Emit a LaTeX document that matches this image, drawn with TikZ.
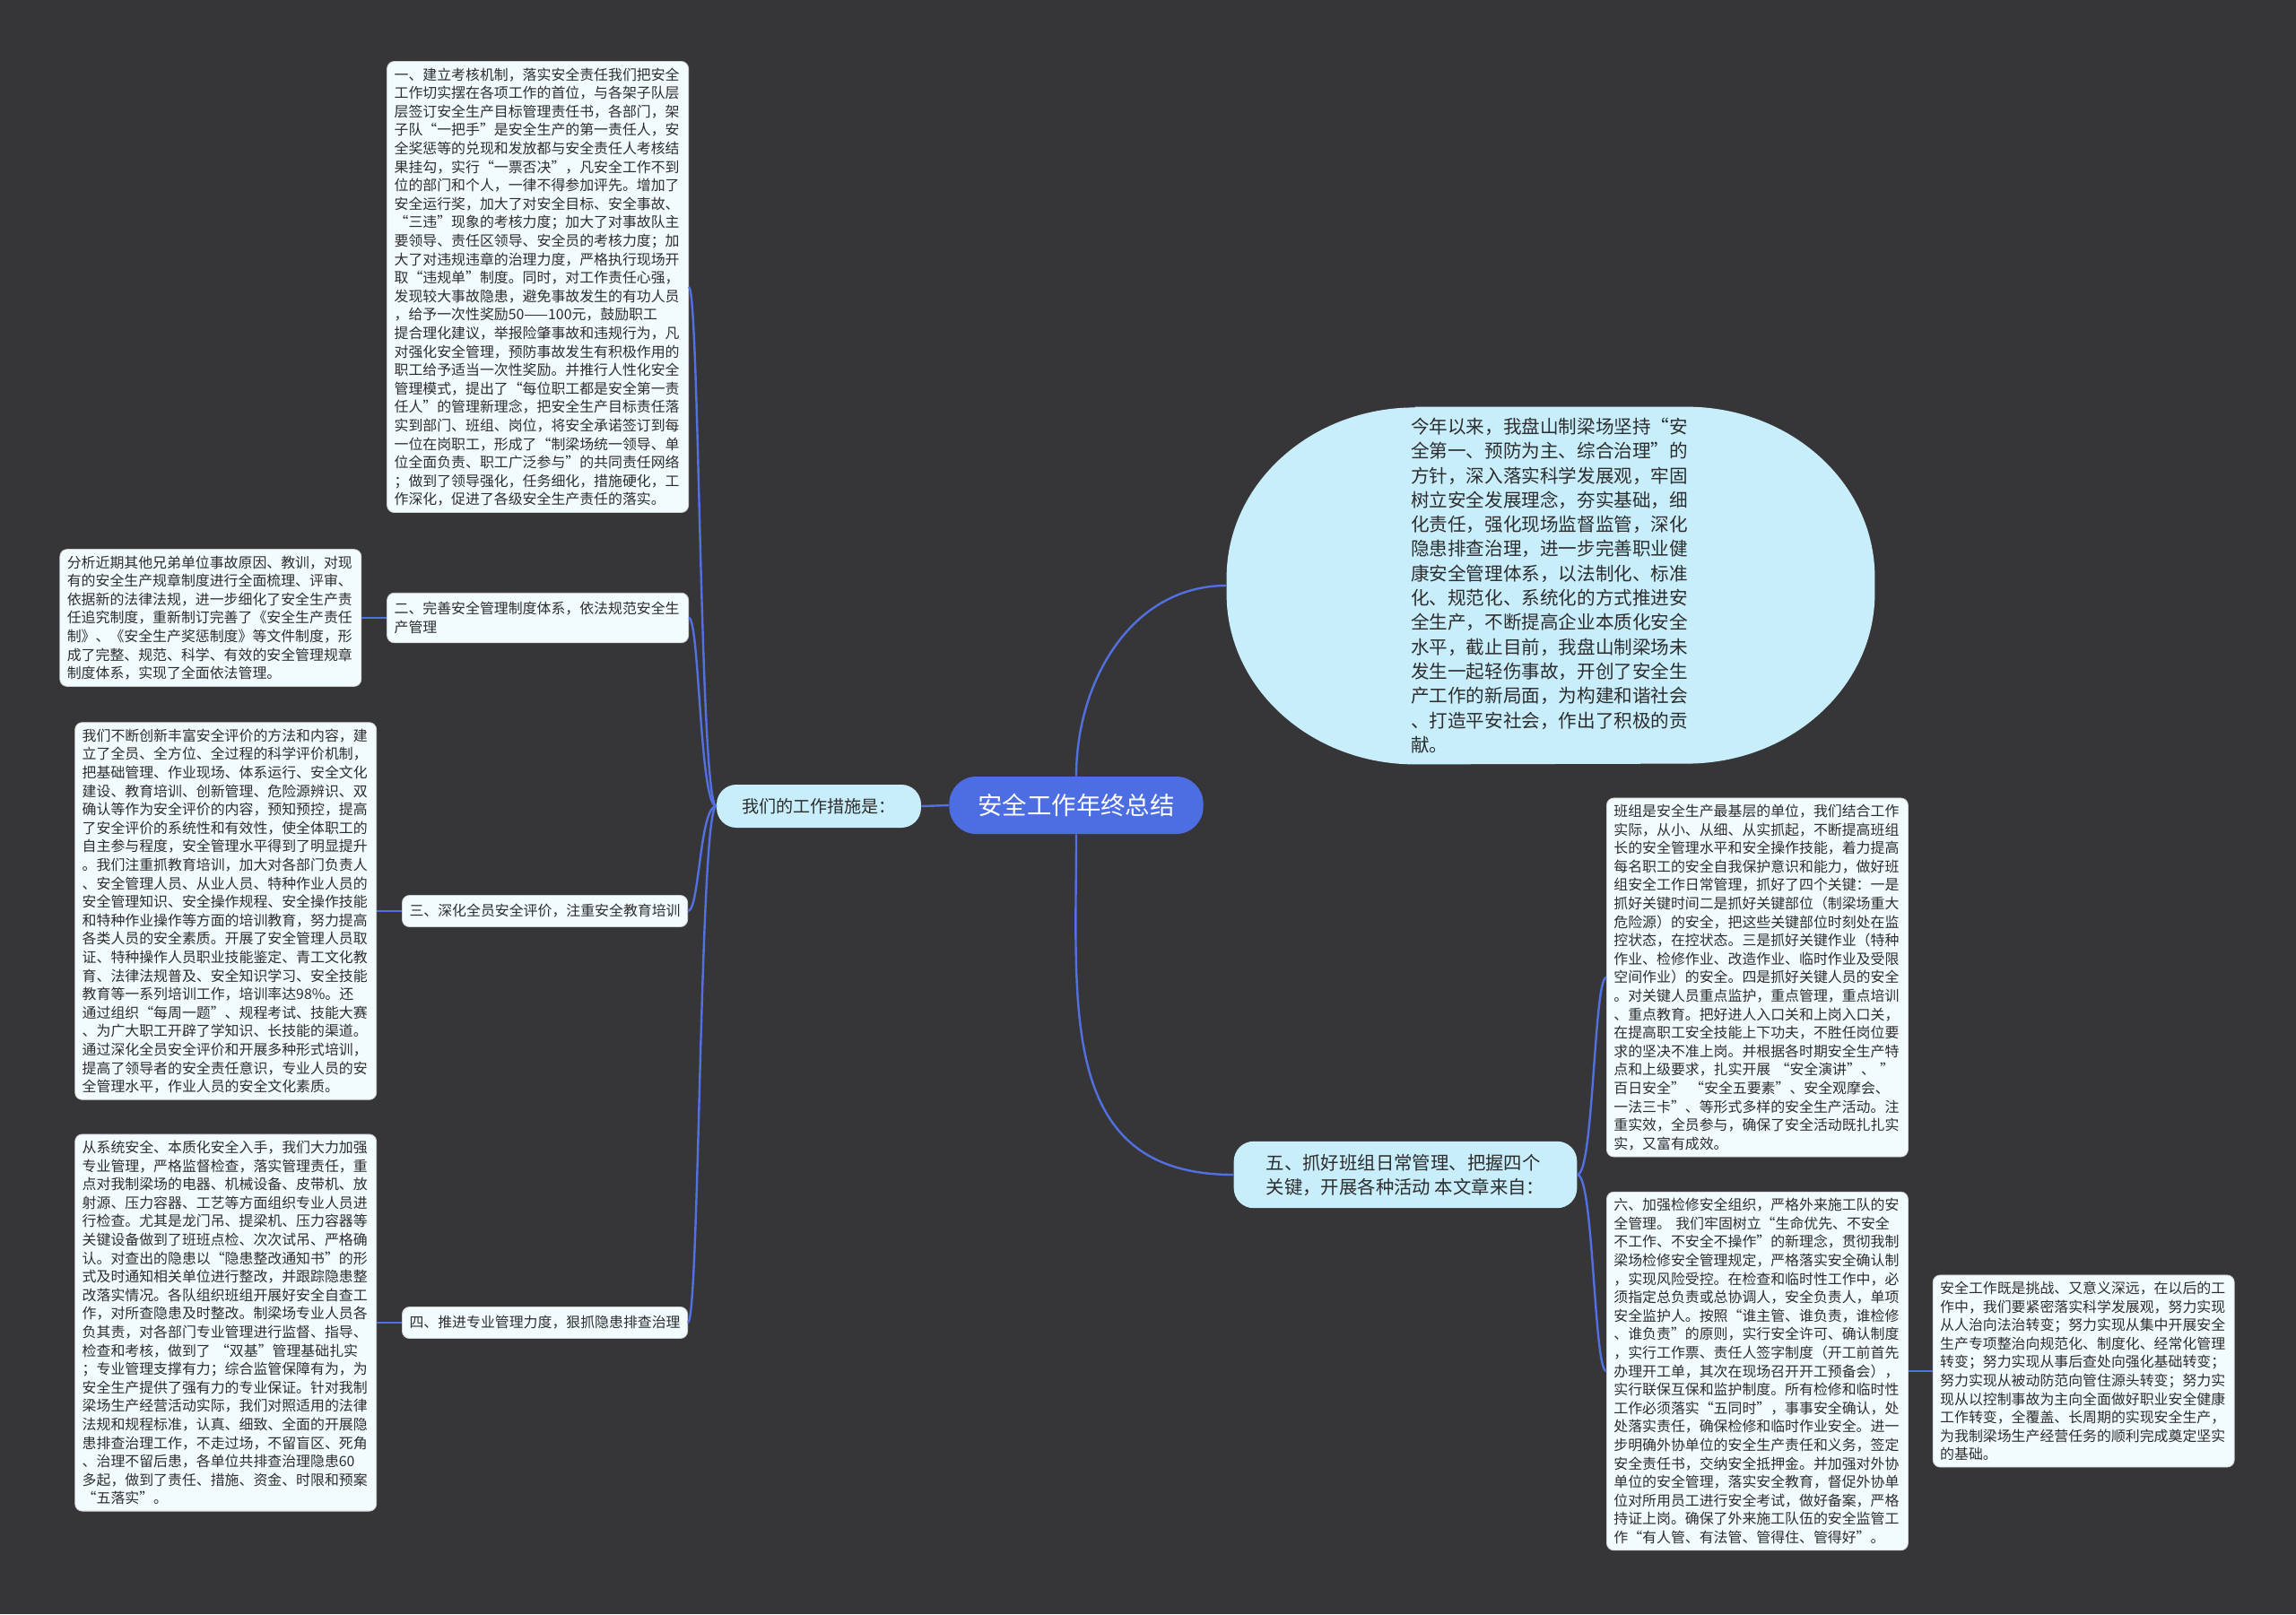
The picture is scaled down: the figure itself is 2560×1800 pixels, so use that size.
\documentclass[tikz,border=0pt]{standalone}
\usepackage{fontspec}
\setmainfont{Noto Sans CJK SC}
\usepackage{tikz}
\usetikzlibrary{positioning, backgrounds}

\definecolor{bg}{RGB}{54,54,56}
\definecolor{linkblue}{RGB}{82,112,224}
\definecolor{rootblue}{RGB}{76,110,226}
\definecolor{skyfill}{RGB}{200,238,252}
\definecolor{paper}{RGB}{242,252,255}
\definecolor{ink}{RGB}{45,45,45}

\begin{document}
\begin{tikzpicture}[
  x=0.5pt, y=-0.5pt,
  link/.style={draw=linkblue, line width=1.2pt},
  card/.style={draw=black!18, fill=paper, rounded corners=4pt, text=ink,
    align=left, inner xsep=4pt, inner ysep=3.5pt,
    font=\fontsize{7.95pt}{10.3pt}\selectfont},
  leaf/.style={card, text width=160pt},
  head/.style={card, minimum height=17.5pt},
  soft/.style={fill=skyfill, text=ink, rounded corners=11pt, align=left},
  bubble/.style={text=ink, align=left, minimum width=361pt,
    minimum height=199pt, text width=156pt,
    font=\fontsize{10.3pt}{13.65pt}\selectfont},
  root/.style={fill=rootblue, text=white, rounded corners=15pt,
    minimum height=32pt, inner xsep=16pt,
    font=\fontsize{13.7pt}{16pt}\selectfont},
]
  \useasboundingbox (0,0) rectangle (2560,1800);

  % centre
  \node[root] (t) at (1200,898) {安全工作年终总结};
  \node[soft, minimum height=24pt, inner xsep=14pt,
    font=\fontsize{9.55pt}{12pt}\selectfont] (w) at (913,899) {我们的工作措施是：};
  \node[bubble] (b) at (1729,653) {今年以来，我盘山制梁场坚持“安\\
全第一、预防为主、综合治理”的\\
方针，深入落实科学发展观，牢固\\
树立安全发展理念，夯实基础，细\\
化责任，强化现场监督监管，深化\\
隐患排查治理，进一步完善职业健\\
康安全管理体系，以法制化、标准\\
化、规范化、系统化的方式推进安\\
全生产，不断提高企业本质化安全\\
水平，截止目前，我盘山制梁场未\\
发生一起轻伤事故，开创了安全生\\
产工作的新局面，为构建和谐社会\\
、打造平安社会，作出了积极的贡\\
献。};
  \node[soft, inner xsep=18pt, inner ysep=7pt,
    font=\fontsize{10.2pt}{13.5pt}\selectfont] (f) at (1567,1310)
    {五、抓好班组日常管理、把握四个\\关键，开展各种活动 本文章来自：};

  % left branch
  \node[leaf, anchor=east] (a1) at (768,320) {一、建立考核机制，落实安全责任我们把安全\\
工作切实摆在各项工作的首位，与各架子队层\\
层签订安全生产目标管理责任书，各部门，架\\
子队“一把手”是安全生产的第一责任人，安\\
全奖惩等的兑现和发放都与安全责任人考核结\\
果挂勾，实行“一票否决”，凡安全工作不到\\
位的部门和个人，一律不得参加评先。增加了\\
安全运行奖，加大了对安全目标、安全事故、\\
“三违”现象的考核力度；加大了对事故队主\\
要领导、责任区领导、安全员的考核力度；加\\
大了对违规违章的治理力度，严格执行现场开\\
取“违规单”制度。同时，对工作责任心强，\\
发现较大事故隐患，避免事故发生的有功人员\\
，给予一次性奖励50——100元，鼓励职工\\
提合理化建议，举报险肇事故和违规行为，凡\\
对强化安全管理，预防事故发生有积极作用的\\
职工给予适当一次性奖励。并推行人性化安全\\
管理模式，提出了“每位职工都是安全第一责\\
任人”的管理新理念，把安全生产目标责任落\\
实到部门、班组、岗位，将安全承诺签订到每\\
一位在岗职工，形成了“制梁场统一领导、单\\
位全面负责、职工广泛参与”的共同责任网络\\
；做到了领导强化，任务细化，措施硬化，工\\
作深化，促进了各级安全生产责任的落实。};
  \node[leaf, anchor=east, inner ysep=5pt] (a2) at (768,689)
    {二、完善安全管理制度体系，依法规范安全生\\产管理};
  \node[head, anchor=east] (a3) at (767,1016) {三、深化全员安全评价，注重安全教育培训};
  \node[head, anchor=east] (a4) at (767,1475) {四、推进专业管理力度，狠抓隐患排查治理};

  \node[leaf, left=14pt of a2] (b2) {分析近期其他兄弟单位事故原因、教训，对现\\
有的安全生产规章制度进行全面梳理、评审、\\
依据新的法律法规，进一步细化了安全生产责\\
任追究制度，重新制订完善了《安全生产责任\\
制》、《安全生产奖惩制度》等文件制度，形\\
成了完整、规范、科学、有效的安全管理规章\\
制度体系，实现了全面依法管理。};
  \node[leaf, left=14pt of a3] (b3) {我们不断创新丰富安全评价的方法和内容，建\\
立了全员、全方位、全过程的科学评价机制，\\
把基础管理、作业现场、体系运行、安全文化\\
建设、教育培训、创新管理、危险源辨识、双\\
确认等作为安全评价的内容，预知预控，提高\\
了安全评价的系统性和有效性，使全体职工的\\
自主参与程度，安全管理水平得到了明显提升\\
。我们注重抓教育培训，加大对各部门负责人\\
、安全管理人员、从业人员、特种作业人员的\\
安全管理知识、安全操作规程、安全操作技能\\
和特种作业操作等方面的培训教育，努力提高\\
各类人员的安全素质。开展了安全管理人员取\\
证、特种操作人员职业技能鉴定、青工文化教\\
育、法律法规普及、安全知识学习、安全技能\\
教育等一系列培训工作，培训率达98\%。还\\
通过组织“每周一题”、规程考试、技能大赛\\
、为广大职工开辟了学知识、长技能的渠道。\\
通过深化全员安全评价和开展多种形式培训，\\
提高了领导者的安全责任意识，专业人员的安\\
全管理水平，作业人员的安全文化素质。};
  \node[leaf, left=14pt of a4] (b4) {从系统安全、本质化安全入手，我们大力加强\\
专业管理，严格监督检查，落实管理责任，重\\
点对我制梁场的电器、机械设备、皮带机、放\\
射源、压力容器、工艺等方面组织专业人员进\\
行检查。尤其是龙门吊、提梁机、压力容器等\\
关键设备做到了班班点检、次次试吊、严格确\\
认。对查出的隐患以“隐患整改通知书”的形\\
式及时通知相关单位进行整改，并跟踪隐患整\\
改落实情况。各队组织班组开展好安全自查工\\
作，对所查隐患及时整改。制梁场专业人员各\\
负其责，对各部门专业管理进行监督、指导、\\
检查和考核，做到了 “双基”管理基础扎实\\
；专业管理支撑有力；综合监管保障有为，为\\
安全生产提供了强有力的专业保证。针对我制\\
梁场生产经营活动实际，我们对照适用的法律\\
法规和规程标准，认真、细致、全面的开展隐\\
患排查治理工作，不走过场，不留盲区、死角\\
、治理不留后患，各单位共排查治理隐患60\\
多起，做到了责任、措施、资金、时限和预案\\
“五落实”。};

  % right branch
  \node[leaf, anchor=west] (c1) at (1791,1090) {班组是安全生产最基层的单位，我们结合工作\\
实际，从小、从细、从实抓起，不断提高班组\\
长的安全管理水平和安全操作技能，着力提高\\
每名职工的安全自我保护意识和能力，做好班\\
组安全工作日常管理，抓好了四个关键：一是\\
抓好关键时间二是抓好关键部位（制梁场重大\\
危险源）的安全，把这些关键部位时刻处在监\\
控状态，在控状态。三是抓好关键作业（特种\\
作业、检修作业、改造作业、临时作业及受限\\
空间作业）的安全。四是抓好关键人员的安全\\
。对关键人员重点监护，重点管理，重点培训\\
、重点教育。把好进人入口关和上岗入口关，\\
在提高职工安全技能上下功夫，不胜任岗位要\\
求的坚决不准上岗。并根据各时期安全生产特\\
点和上级要求，扎实开展 “安全演讲”、 ”\\
百日安全” “安全五要素”、安全观摩会、\\
一法三卡”、等形式多样的安全生产活动。注\\
重实效，全员参与，确保了安全活动既扎扎实\\
实，又富有成效。};
  \node[leaf, anchor=west] (c2) at (1791,1529) {六、加强检修安全组织，严格外来施工队的安\\
全管理。 我们牢固树立“生命优先、不安全\\
不工作、不安全不操作”的新理念，贯彻我制\\
梁场检修安全管理规定，严格落实安全确认制\\
，实现风险受控。在检查和临时性工作中，必\\
须指定总负责或总协调人，安全负责人，单项\\
安全监护人。按照“谁主管、谁负责，谁检修\\
、谁负责”的原则，实行安全许可、确认制度\\
，实行工作票、责任人签字制度（开工前首先\\
办理开工单，其次在现场召开开工预备会），\\
实行联保互保和监护制度。所有检修和临时性\\
工作必须落实“五同时”，事事安全确认，处\\
处落实责任，确保检修和临时作业安全。进一\\
步明确外协单位的安全生产责任和义务，签定\\
安全责任书，交纳安全抵押金。并加强对外协\\
单位的安全管理，落实安全教育，督促外协单\\
位对所用员工进行安全考试，做好备案，严格\\
持证上岗。确保了外来施工队伍的安全监管工\\
作“有人管、有法管、管得住、管得好”。};
  \node[leaf, right=13.5pt of c2] (c3) {安全工作既是挑战、又意义深远，在以后的工\\
作中，我们要紧密落实科学发展观，努力实现\\
从人治向法治转变；努力实现从集中开展安全\\
生产专项整治向规范化、制度化、经常化管理\\
转变；努力实现从事后查处向强化基础转变；\\
努力实现从被动防范向管住源头转变；努力实\\
现从以控制事故为主向全面做好职业安全健康\\
工作转变，全覆盖、长周期的实现安全生产，\\
为我制梁场生产经营任务的顺利完成奠定坚实\\
的基础。};

  % backdrop and bubble outline
  \begin{scope}[on background layer]
    \fill[bg] (0,0) rectangle (2560,1800);
    \fill[skyfill] ([xshift=105pt]b.north west) -- ([xshift=-105pt]b.north east)
      arc[start angle=90, end angle=0, x radius=105pt, y radius=95pt]
      -- ++(0pt,-9pt)
      arc[start angle=0, end angle=-90, x radius=105pt, y radius=95pt]
      -- ([xshift=105pt]b.south west)
      arc[start angle=270, end angle=180, x radius=105pt, y radius=95pt]
      -- ++(0pt,9pt)
      arc[start angle=180, end angle=90, x radius=105pt, y radius=95pt] -- cycle;
  \end{scope}

  % connectors
  \coordinate (ls) at (780,899);
  \coordinate (rs) at (1777,1310);
  \draw[link] (t.west) -- (w.east);
  \foreach \n in {a1,a2,a3,a4}
    \draw[link] (w.west) .. controls (ls) and (ls |- \n.east) .. (\n.east);
  \draw[link] (a2.west) -- (b2.east);
  \draw[link] (a3.west) -- (b3.east);
  \draw[link] (a4.west) -- (b4.east);
  \draw[link] (t.north) to[out=90, in=180] (b.west);
  \draw[link] (t.south) to[out=-90, in=180, looseness=1.2] (f.west);
  \foreach \n in {c1,c2}
    \draw[link] (f.east) .. controls (rs) and (rs |- \n.west) .. (\n.west);
  \draw[link] (c2.east) -- (c3.west);
\end{tikzpicture}
\end{document}
